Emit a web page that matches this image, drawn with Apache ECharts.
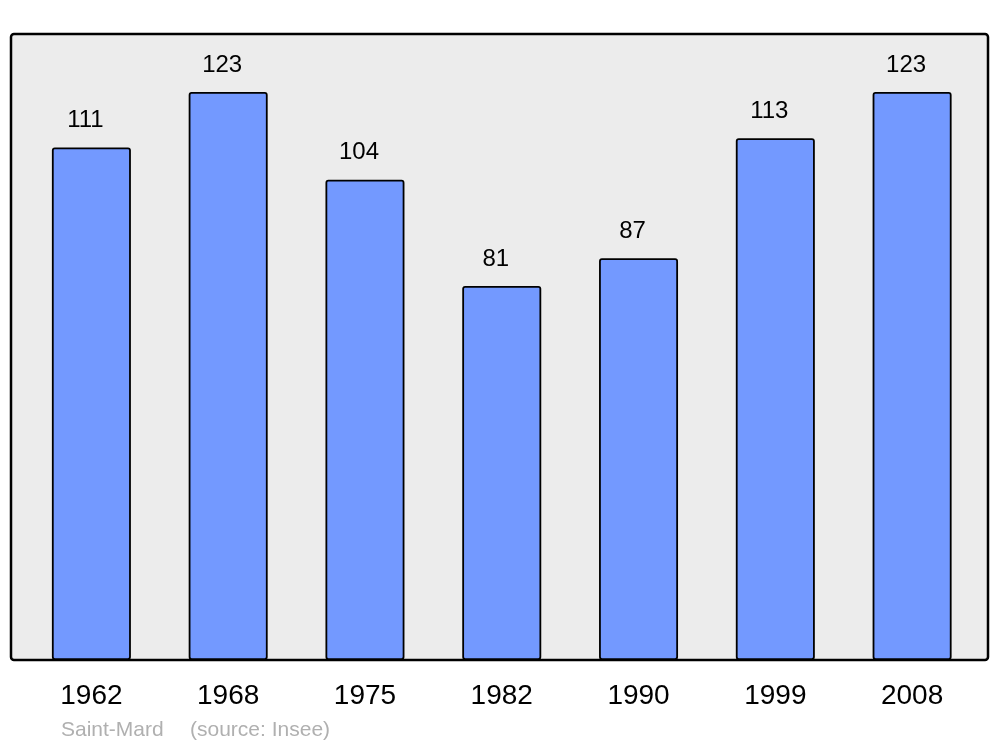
<!DOCTYPE html>
<html>
<head>
<meta charset="utf-8">
<title>Saint-Mard</title>
<script src="https://cdn.jsdelivr.net/npm/echarts@6/dist/echarts.min.js"></script>
<style>
  html, body { margin: 0; padding: 0; background: #fff; }
  #chart { width: 1000px; height: 747px; }
</style>
</head>
<body>
<div id="chart"></div>
<script>
// population par recensement
const years = ['1962', '1968', '1975', '1982', '1990', '1999', '2008'];
const population = [111, 123, 104, 81, 87, 113, 123];

const chart = echarts.init(document.getElementById('chart'));

const option = {
  animation: false,
  textStyle: { fontFamily: 'Liberation Sans, Arial, sans-serif' },
  grid: { left: 23, right: 19.5, top: 34, bottom: 87 },
  graphic: [
    {
      // cadre gris du graphique
      type: 'rect',
      z: -10,
      shape: { x: 11, y: 34, width: 977, height: 626, r: 3 },
      style: { fill: '#ececec', stroke: '#000', lineWidth: 2.5 }
    },
    {
      type: 'text',
      left: 61,
      top: 720,
      style: { text: 'Saint-Mard', fontSize: 21, fill: '#b0b0b0', fontFamily: 'Liberation Sans' }
    },
    {
      type: 'text',
      left: 190,
      top: 720,
      style: { text: '(source: Insee)', fontSize: 21, fill: '#b0b0b0', fontFamily: 'Liberation Sans' }
    }
  ],
  xAxis: {
    type: 'category',
    data: years,
    axisLine: { show: false },
    axisTick: { show: false },
    axisLabel: { color: '#000', fontSize: 28, margin: 22 }
  },
  yAxis: {
    type: 'value',
    min: 0,
    max: 135.56,
    show: false,
    splitLine: { show: false }
  },
  series: [{
    type: 'bar',
    data: population,
    barWidth: 79,
    itemStyle: {
      color: '#7399ff',
      borderColor: '#000',
      borderWidth: 1.8,
      borderRadius: 2
    },
    label: {
      show: true,
      position: 'top',
      distance: 15,
      offset: [-6, 0],
      color: '#000',
      fontSize: 24
    }
  }]
};

chart.setOption(option);
window.addEventListener('resize', chart.resize);
</script>
</body>
</html>
